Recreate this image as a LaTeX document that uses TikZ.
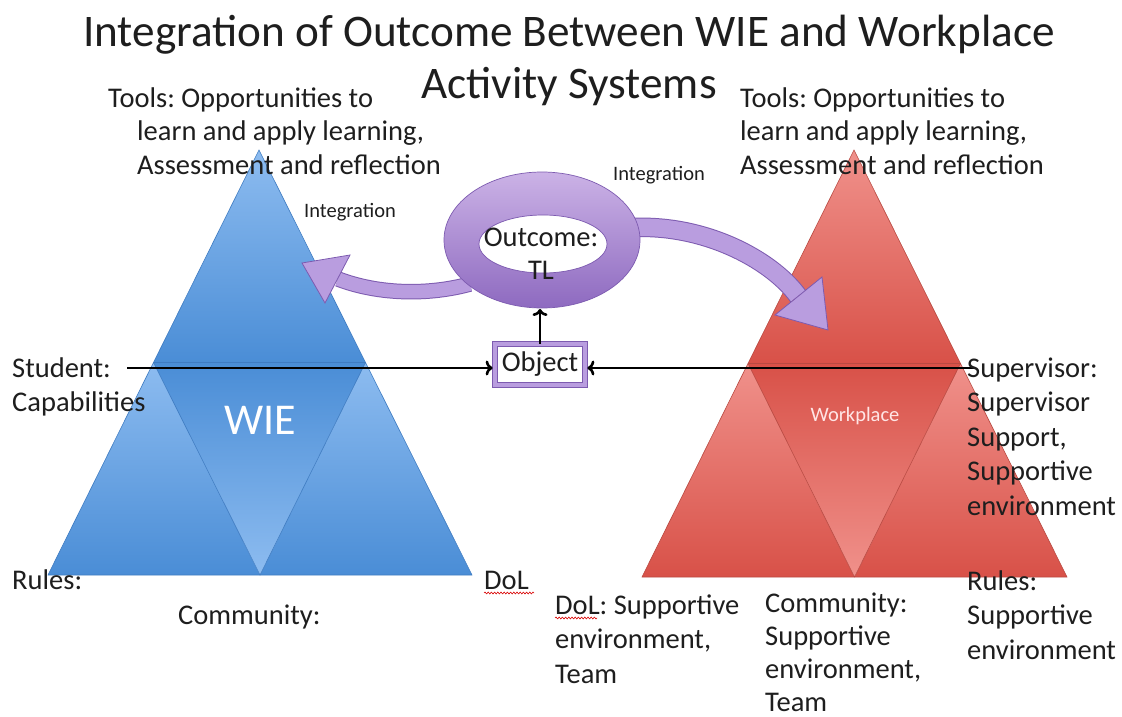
\documentclass[tikz,border=0pt]{standalone}
\usepackage{fontspec}
\setmainfont{Carlito}
\frenchspacing
\usetikzlibrary{arrows.meta,calc,decorations.pathmorphing}
\definecolor{bluel}{HTML}{8DBCF0}
\definecolor{blued}{HTML}{4A8DD6}
\definecolor{bluee}{HTML}{3F7CC2}
\definecolor{redl}{HTML}{F0918B}
\definecolor{redd}{HTML}{D85148}
\definecolor{rede}{HTML}{B94A42}
\definecolor{purl}{HTML}{CBB2E6}
\definecolor{purd}{HTML}{8E6AC0}
\definecolor{purm}{HTML}{B99DDF}
\definecolor{pure}{HTML}{7D5BB0}
\definecolor{txt}{HTML}{1E1E1E}
\begin{document}
\begin{tikzpicture}[x=1pt,y=-1pt,
  lbl/.style={font=\fontsize{28.5}{34.5}\selectfont, text=txt, inner sep=0pt, align=left, anchor=base west},
  tools/.style={lbl, font=\fontsize{28.5}{33.5}\selectfont},
  small/.style={font=\fontsize{20.5}{24}\selectfont, text=txt, inner sep=0pt, anchor=base west},
  conn/.style={draw=black, line width=2.6pt, -{To[length=7pt,width=15pt]}, shorten >=2pt},
  squig/.style={draw=red!85!black, line width=0.6pt, decorate, decoration={snake, amplitude=0.9pt, segment length=3.2pt}},
  edgeline/.style={line width=0.6pt},
  pbody/.style={draw=pure, line cap=butt},
  pbodyin/.style={draw=purm, line cap=butt},
  phead/.style={fill=purm, draw=pure, line width=0.8pt, line join=miter}]
\useasboundingbox (0,0) rectangle (1122,717);
\fill[white] (0,0) rectangle (1122,717);

% ---------- blue WIE triangle ----------
\coordinate (bA) at (259,150);
\coordinate (bL) at (48,575);
\coordinate (bR) at (472,575);
\coordinate (bML) at ($(bA)!0.5!(bL)$);
\coordinate (bMR) at ($(bA)!0.5!(bR)$);
\coordinate (bMB) at ($(bL)!0.5!(bR)$);
\shade[top color=bluel, bottom color=blued] (bA) -- (bML) -- (bMR) -- cycle;
\shade[top color=bluel, bottom color=blued] (bML) -- (bL) -- (bMB) -- cycle;
\shade[top color=bluel, bottom color=blued] (bMR) -- (bMB) -- (bR) -- cycle;
\shade[top color=blued, bottom color=bluel] (bML) -- (bMR) -- (bMB) -- cycle;
\draw[bluee, edgeline] (bA) -- (bL) -- (bR) -- cycle (bML) -- (bMR) -- (bMB) -- cycle;

% ---------- red Workplace triangle ----------
\coordinate (rA) at (854,150);
\coordinate (rL) at (642,577);
\coordinate (rR) at (1067,577);
\coordinate (rML) at ($(rA)!0.5!(rL)$);
\coordinate (rMR) at ($(rA)!0.5!(rR)$);
\coordinate (rMB) at ($(rL)!0.5!(rR)$);
\shade[top color=redl, bottom color=redd] (rA) -- (rML) -- (rMR) -- cycle;
\shade[top color=redl, bottom color=redd] (rML) -- (rL) -- (rMB) -- cycle;
\shade[top color=redl, bottom color=redd] (rMR) -- (rMB) -- (rR) -- cycle;
\shade[top color=redd, bottom color=redl] (rML) -- (rMR) -- (rMB) -- cycle;
\draw[rede, edgeline] (rA) -- (rL) -- (rR) -- cycle (rML) -- (rMR) -- (rMB) -- cycle;

\node[font=\fontsize{44}{50}\selectfont, text=white, anchor=base, inner sep=0pt] (wie) at (260,434) {WIE};
\node[font=\fontsize{20.5}{24}\selectfont, text=white!90!red, anchor=base, inner sep=0pt] (wp) at (855,421) {Workplace};

% ---------- curved purple arrows ----------
\coordinate (lS) at (470,284);
\coordinate (lE) at (338,279);
\coordinate (lT) at (302,263);
\coordinate (lB1) at (350,255);
\coordinate (lB2) at (325,303);
\draw[pbody, line width=15.5pt] (lS) .. controls (430,295) and (380,295) .. (lE);
\draw[pbodyin, line width=13.5pt] (lS) .. controls (430,295) and (380,295) .. (lE);
\draw[phead] (lT) -- (lB1) -- (lB2) -- cycle;

\coordinate (rS) at (626,228);
\coordinate (rE) at (798,296);
\coordinate (rT) at (828,330);
\coordinate (rB1) at (775,315);
\coordinate (rB2) at (822,277);
\draw[pbody, line width=19.5pt] (rS) .. controls (700,222) and (770,258) .. (rE);
\draw[pbodyin, line width=17.5pt] (rS) .. controls (700,222) and (770,258) .. (rE);
\draw[phead] (rT) -- (rB1) -- (rB2) -- cycle;

% ---------- outcome ring ----------
\shade[top color=purl, bottom color=purd, even odd rule]
  (542,240) ellipse [x radius=98pt, y radius=68pt]
  (543,244) ellipse [x radius=64pt, y radius=29pt];
\draw[pure, line width=0.7pt]
  (542,240) ellipse [x radius=98pt, y radius=68pt]
  (543,244) ellipse [x radius=64pt, y radius=29pt];
\coordinate (rb) at (541,309);
\node[lbl, font=\fontsize{28.5}{33}\selectfont, anchor=base, align=center] (out) at (541,279) {Outcome:\\TL};

% ---------- object box ----------
\node[draw=pure, line width=0.8pt, double=purm, double distance=4pt, fill=white,
      minimum width=90pt, minimum height=41pt, inner sep=0pt,
      font=\fontsize{28.5}{34}\selectfont, text=txt] (obj) at (540,364.5) {Object};

% ---------- black connectors ----------
\coordinate (sa) at (127,368);
\coordinate (sb) at (975,368);
\draw[conn] (sa) -- (sa -| obj.west);
\draw[conn] (sb) -- (sb -| obj.east);
\draw[conn, shorten >=0pt] (obj.north) -- (obj.north |- rb);

% ---------- title ----------
\node[font=\fontsize{45.2}{52}\selectfont, text=txt, align=center, anchor=base, inner sep=0pt] (title) at (569,99)
  {Integration of Outcome Between WIE and Workplace\\Activity Systems};

% ---------- labels (base = last line) ----------
\node[tools] (toolsL) at (137,174) {\hspace*{-29pt}Tools: Opportunities to\\learn and apply learning,\\Assessment and reflection};
\node[tools] (toolsR) at (740,174) {Tools: Opportunities to\\learn and apply learning,\\Assessment and reflection};
\node[small] (intL) at (304,217) {Integration};
\node[small] (intR) at (613,180) {Integration};
\node[lbl] (stu) at (12,411.5) {Student:\\Capabilities};
\node[lbl] (rulesL) at (12,589) {Rules:};
\node[lbl] (commL) at (178,624) {Community:};
\node[lbl] (dolL) at (484,589) {DoL};
\node[lbl] (dolR) at (555,683) {DoL: Supportive\\environment,\\Team};
\node[lbl, font=\fontsize{28.5}{33}\selectfont] (commR) at (765,711) {Community:\\Supportive\\environment,\\Team};
\node[lbl] (sup) at (967,515) {Supervisor:\\Supervisor\\Support,\\Supportive\\environment};
\node[lbl] (rulesR) at (967,659) {Rules:\\Supportive\\environment};

\draw[squig] (dolL.base west) ++(0,4) -- ++(50,0);
\draw[squig] (dolR.base west) ++(0,-65) -- ++(42,0);
\end{tikzpicture}
\end{document}
